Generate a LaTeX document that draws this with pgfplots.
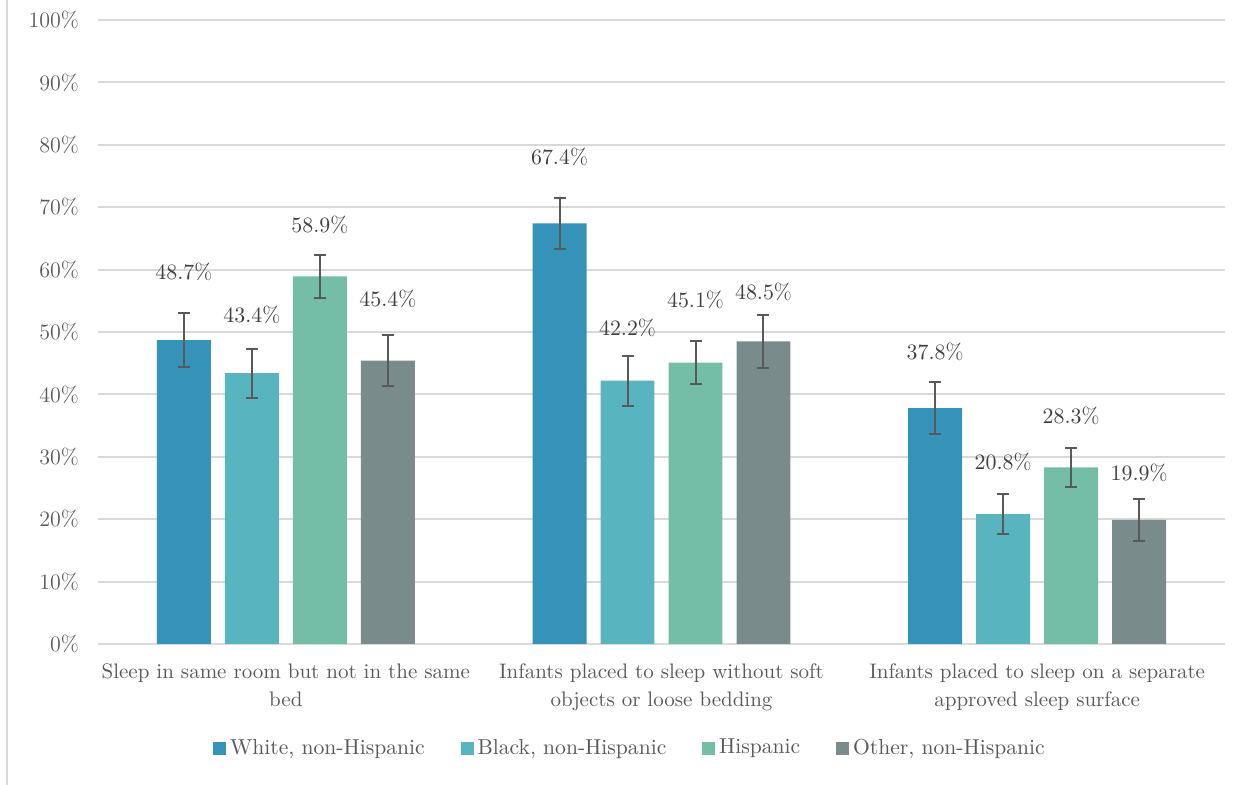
\documentclass[border=0pt]{standalone}
\usepackage{pgfplots}
\usepackage{pgfplotstable}
\pgfplotsset{compat=1.18}
\definecolor{cW}{HTML}{3593BA}
\definecolor{cB}{HTML}{58B5BF}
\definecolor{cH}{HTML}{74BDA6}
\definecolor{cO}{HTML}{7A8B8C}
\definecolor{gridc}{HTML}{D9D9D9}
\definecolor{txt}{HTML}{595959}
\definecolor{lbl}{HTML}{404040}
\definecolor{errc}{HTML}{595959}

\pgfplotstableread{
x y err ly
0 48.7 4.3 59.6
1 67.4 4.1 78.0
2 37.8 4.2 46.8
}\tW
\pgfplotstableread{
x y err ly
0 43.4 3.9 52.7
1 42.2 4.0 50.6
2 20.8 3.2 29.2
}\tB
\pgfplotstableread{
x y err ly
0 58.9 3.4 67.1
1 45.1 3.5 55.1
2 28.3 3.1 36.5
}\tH
\pgfplotstableread{
x y err ly
0 45.4 4.1 55.3
1 48.5 4.3 56.4
2 19.9 3.4 27.5
}\tO

\pgfplotsset{
  barsty/.style={ybar, bar width=0.1437, bar shift=0, draw=none, forget plot,
    error bars/y dir=both, error bars/y explicit,
    error bars/error bar style={errc, line width=1pt},
    error bars/error mark options={errc, rotate=90, mark size=3pt, line width=1pt}},
  lblsty/.style={forget plot, draw=none, mark=none,
    nodes near coords={\pgfmathprintnumber[fixed,fixed zerofill,precision=1]{\pgfplotspointmeta}\%},
    point meta=\thisrow{y},
    every node near coord/.append style={anchor=center, text=lbl, font=\fontsize{11}{12}\selectfont, inner sep=0pt}},
}

\begin{document}
\begin{tikzpicture}
\useasboundingbox (-49pt,-70.5pt) rectangle (577.5pt,322pt);
\draw[gridc, line width=1pt] (-45.5pt,-70.5pt) -- (-45.5pt,322pt);
\begin{axis}[
  at={(0,0)}, anchor=south west,
  scale only axis, width=563.5pt, height=312pt,
  xmin=-0.5, xmax=2.5, ymin=0, ymax=100,
  axis line style={draw=none},
  major tick length=0pt,
  ytick={0,10,...,100},
  yticklabels={0\%,10\%,20\%,30\%,40\%,50\%,60\%,70\%,80\%,90\%,100\%},
  yticklabel style={text=txt, font=\fontsize{11}{12}\selectfont, xshift=-6pt},
  xtick={0,1,2},
  xticklabels={{Sleep in same room but not in the same\\bed},
               {Infants placed to sleep without soft\\objects or loose bedding},
               {Infants placed to sleep on a separate\\approved sleep surface}},
  xticklabel style={align=center, text=txt, font=\fontsize{10.5}{14}\selectfont, yshift=-6.5pt},
  ymajorgrids, grid style={gridc, line width=1pt},
  clip=false,
  legend columns=4,
  legend style={draw=none, at={(0.473,-0.1667)}, anchor=center,
    font=\fontsize{10.8}{12}\selectfont, text=txt,
    /tikz/every even column/.append style={column sep=16pt}},
]
\addplot[barsty, fill=cW] table[x expr=\thisrow{x}-0.2715,y=y,y error=err]{\tW};
\addplot[barsty, fill=cB] table[x expr=\thisrow{x}-0.0905,y=y,y error=err]{\tB};
\addplot[barsty, fill=cH] table[x expr=\thisrow{x}+0.0905,y=y,y error=err]{\tH};
\addplot[barsty, fill=cO] table[x expr=\thisrow{x}+0.2715,y=y,y error=err]{\tO};

\addplot[lblsty] table[x expr=\thisrow{x}-0.2715, y=ly]{\tW};
\addplot[lblsty] table[x expr=\thisrow{x}-0.0905, y=ly]{\tB};
\addplot[lblsty] table[x expr=\thisrow{x}+0.0905, y=ly]{\tH};
\addplot[lblsty] table[x expr=\thisrow{x}+0.2715, y=ly]{\tO};

\addlegendimage{legend image code/.code={\fill[cW] (0pt,-3pt) rectangle (6pt,3pt);}}
\addlegendentry{White, non-Hispanic}
\addlegendimage{legend image code/.code={\fill[cB] (0pt,-3pt) rectangle (6pt,3pt);}}
\addlegendentry{Black, non-Hispanic}
\addlegendimage{legend image code/.code={\fill[cH] (0pt,-3pt) rectangle (6pt,3pt);}}
\addlegendentry{Hispanic}
\addlegendimage{legend image code/.code={\fill[cO] (0pt,-3pt) rectangle (6pt,3pt);}}
\addlegendentry{Other, non-Hispanic}
\end{axis}
\end{tikzpicture}
\end{document}
